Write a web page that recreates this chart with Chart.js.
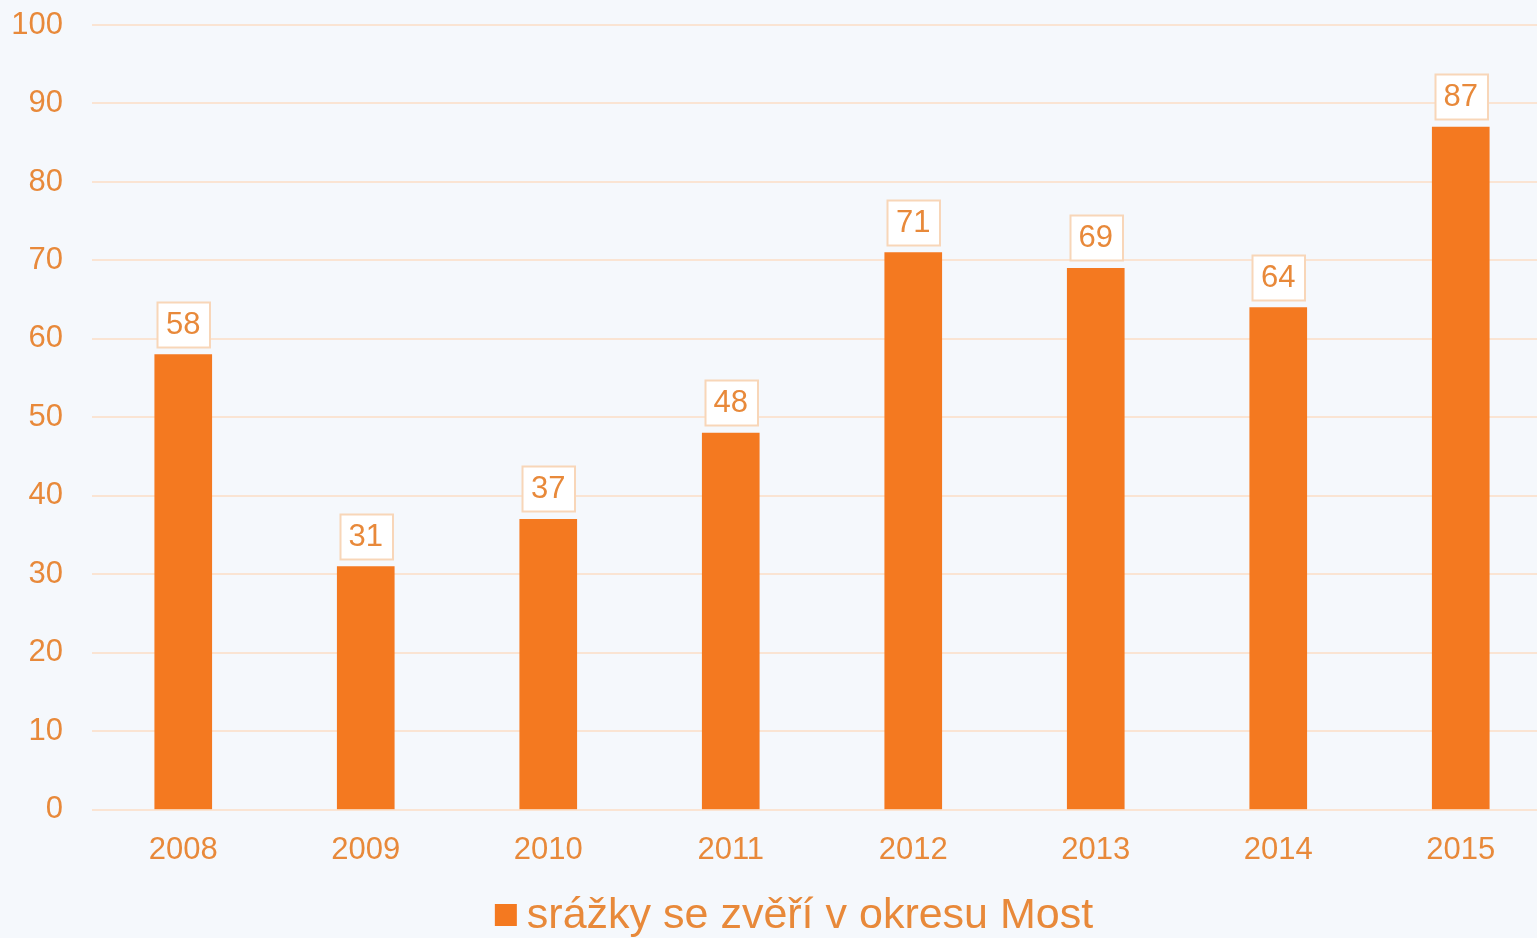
<!DOCTYPE html>
<html><head><meta charset="utf-8">
<script src="https://cdn.jsdelivr.net/npm/chart.js@4.4.0/dist/chart.umd.min.js"></script>
<style>
html,body{margin:0;padding:0;background:#f5f8fc;overflow:hidden;width:1537px;height:938px}
canvas{display:block;position:absolute;left:0;top:0}
</style></head><body>
<canvas id="c" width="1560" height="938" style="width:1560px;height:938px"></canvas>
<script>
const categories = ['2008','2009','2010','2011','2012','2013','2014','2015'];
const values = [58,31,37,48,71,69,64,87];
const seriesLabel = 'srážky se zvěří v okresu Most';
const yMin = 0, yMax = 100, yStep = 10;

const FONT = "'Liberation Sans', Arial, sans-serif";
const TEXT = '#e8893a';
const BAR = '#f47920';
const GRID = '#fae4d3';

const labelPlugin = {
  id: 'valueLabels',
  afterDatasetsDraw(chart) {
    const ctx = chart.ctx;
    const meta = chart.getDatasetMeta(0);
    ctx.save();
    ctx.font = '31px ' + FONT;
    ctx.textAlign = 'center';
    ctx.textBaseline = 'middle';
    meta.data.forEach((el, i) => {
      const txt = String(chart.data.datasets[0].data[i]);
      const w = ctx.measureText(txt).width + 18;
      const h = 45;
      const bottom = el.y - 8;
      const x0 = Math.round(el.x - w / 2) + 0.5, y0 = Math.round(bottom - h) + 0.5;
      ctx.fillStyle = '#ffffff';
      ctx.fillRect(x0, y0, w, h);
      ctx.strokeStyle = '#f8d6b8';
      ctx.lineWidth = 2;
      ctx.strokeRect(x0, y0, w, h);
      ctx.fillStyle = TEXT;
      ctx.fillText(txt, el.x, bottom - h / 2 + 1);
    });
    ctx.restore();
  }
};

const legendPlugin = {
  id: 'customLegend',
  afterDraw(chart) {
    const ctx = chart.ctx;
    const ds = chart.data.datasets[0];
    ctx.save();
    ctx.font = '43px ' + FONT;
    const tw = ctx.measureText(ds.label).width;
    const box = 22, gap = 10;
    const total = box + gap + tw;
    const cx = 794, cy = 915;
    const left = cx - total / 2;
    ctx.fillStyle = ds.backgroundColor;
    ctx.fillRect(left, cy - box / 2, box, box);
    ctx.fillStyle = TEXT;
    ctx.textAlign = 'left';
    ctx.textBaseline = 'middle';
    ctx.fillText(ds.label, left + box + gap, cy + 1);
    ctx.restore();
  }
};

new Chart(document.getElementById('c'), {
  type: 'bar',
  data: {
    labels: categories,
    datasets: [{
      label: seriesLabel,
      data: values,
      backgroundColor: BAR,
      borderWidth: 0,
      barThickness: 57
    }]
  },
  options: {
    responsive: false,
    maintainAspectRatio: false,
    animation: false,
    devicePixelRatio: 1,
    layout: { padding: { top: 25, right: 8, bottom: 47, left: 0 } },
    plugins: { legend: { display: false }, tooltip: { enabled: false } },
    scales: {
      x: {
        grid: { display: false, drawTicks: false },
        border: { display: false },
        ticks: { color: TEXT, font: { size: 31, family: FONT }, padding: 22 },
        afterFit(s) { s.paddingLeft = 0; s.paddingRight = 0; }
      },
      y: {
        min: yMin, max: yMax,
        grid: { color: GRID, lineWidth: 2, drawTicks: false },
        border: { display: false },
        ticks: { stepSize: yStep, color: TEXT, font: { size: 31, family: FONT }, padding: 29 },
        afterFit(s) { s.width = 92; s.paddingTop = 0; s.paddingBottom = 0; }
      }
    }
  },
  plugins: [labelPlugin, legendPlugin]
});
</script>
</body></html>
